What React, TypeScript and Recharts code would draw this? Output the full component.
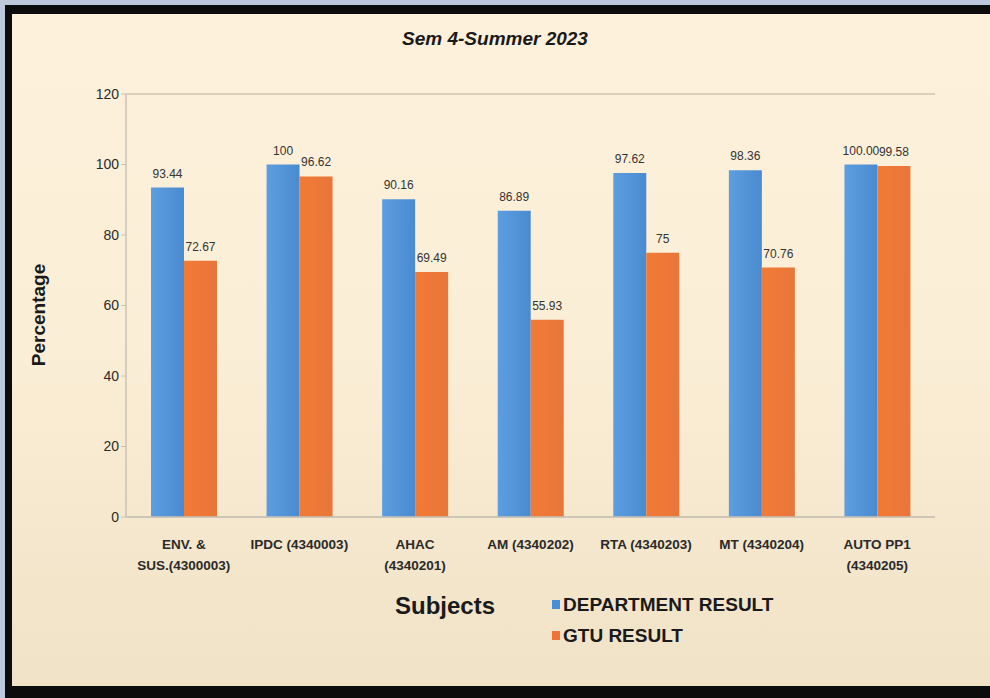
import React from 'react';
import { BarChart, Bar, XAxis, YAxis, CartesianGrid, LabelList } from 'recharts';

const subjects = [
  'ENV. &\nSUS.(4300003)',
  'IPDC (4340003)',
  'AHAC\n(4340201)',
  'AM (4340202)',
  'RTA (4340203)',
  'MT (4340204)',
  'AUTO PP1\n(4340205)',
];
const departmentResult = [93.44, 100, 90.16, 86.89, 97.62, 98.36, 100.0];
const departmentLabels = ['93.44', '100', '90.16', '86.89', '97.62', '98.36', '100.00'];
const gtuResult = [72.67, 96.62, 69.49, 55.93, 75, 70.76, 99.58];
const gtuLabels = ['72.67', '96.62', '69.49', '55.93', '75', '70.76', '99.58'];
const yTicks = [0, 20, 40, 60, 80, 100, 120];

const data = subjects.map((s, i) => ({
  subject: s,
  dept: departmentResult[i],
  deptLabel: departmentLabels[i],
  gtu: gtuResult[i],
  gtuLabel: gtuLabels[i],
}));

const FONT = '"Liberation Sans Narrow", "Liberation Sans", Arial, sans-serif';

const SubjectTick = (props: any) => {
  const { x, y, payload } = props;
  const lines = String(payload.value).split('\n');
  return (
    <g transform={`translate(${x},${y})`}>
      {lines.map((l, i) => (
        <text key={i} x={0} y={24 + i * 21} textAnchor="middle" fontSize={13.5} fontWeight={700} fontFamily={FONT} fill="#2a2a2a">
          {l}
        </text>
      ))}
    </g>
  );
};

const BarLabel = (props: any) => {
  const { x, y, width, value } = props;
  return (
    <text x={x + width / 2} y={y - 10} textAnchor="middle" fontSize={12} fontFamily={FONT} fill="#333">
      {value}
    </text>
  );
};

export default function App() {
  return (
    <div style={{ position: 'absolute', left: 0, top: 0, width: 990, height: 698, overflow: 'hidden', background: '#bcc8dc' }}>
      <div
        style={{
          position: 'absolute',
          left: 5,
          top: 5,
          width: 1000,
          height: 693,
          boxSizing: 'border-box',
          borderLeft: '7px solid #0c0c0c',
          borderTop: '9px solid #0c0c0c',
          borderBottom: '12px solid #0c0c0c',
          background: 'linear-gradient(180deg, #fdf1dc 0%, #fbeed6 50%, #efe2c6 100%)',
        }}
      />
      <div style={{ position: 'absolute', left: 0, top: 28, width: 990, textAlign: 'center', fontFamily: FONT, fontStyle: 'italic', fontWeight: 700, fontSize: 19, color: '#1a1a1a' }}>
        Sem 4-Summer 2023
      </div>
      <div
        style={{
          position: 'absolute',
          left: 39,
          top: 315,
          transform: 'translate(-50%, -50%) rotate(-90deg)',
          fontFamily: FONT,
          fontWeight: 700,
          fontSize: 19,
          color: '#1a1a1a',
          whiteSpace: 'nowrap',
        }}
      >
        Percentage
      </div>
      <div style={{ position: 'absolute', left: 395, top: 592, fontFamily: FONT, fontWeight: 700, fontSize: 24, color: '#1a1a1a' }}>
        Subjects
      </div>
      <div style={{ position: 'absolute', left: 552, top: 593, fontFamily: FONT, fontSize: 19, fontWeight: 700, color: '#1a1a1a' }}>
        <div style={{ display: 'flex', alignItems: 'center', height: 23 }}>
          <span style={{ width: 8, height: 9, background: '#4a8fd6', marginRight: 3 }} />
          DEPARTMENT RESULT
        </div>
        <div style={{ display: 'flex', alignItems: 'center', height: 23, marginTop: 8 }}>
          <span style={{ width: 8, height: 9, background: '#ed7434', marginRight: 3 }} />
          GTU RESULT
        </div>
      </div>
      <div style={{ position: 'absolute', left: 0, top: 0 }}>
        <BarChart width={990} height={698} data={data} margin={{ top: 94, right: 55, left: 63, bottom: 151 }} barGap={0} barSize={33}>
          <defs>
            <linearGradient id="blueGrad" x1="0" y1="0" x2="1" y2="0">
              <stop offset="0%" stopColor="#5d9ee0" />
              <stop offset="100%" stopColor="#4a8bd0" />
            </linearGradient>
            <linearGradient id="orangeGrad" x1="0" y1="0" x2="1" y2="0">
              <stop offset="0%" stopColor="#f27a36" />
              <stop offset="100%" stopColor="#e8763a" />
            </linearGradient>
          </defs>
          <CartesianGrid vertical={false} stroke="#cfc6b4" strokeWidth={1.5} />
          <XAxis
            dataKey="subject"
            tick={<SubjectTick />}
            tickLine={false}
            axisLine={{ stroke: '#c9c2b4', strokeWidth: 1.5 }}
            interval={0}
          />
          <YAxis
            yAxisId="left"
            width={63}
            domain={[0, 120]}
            ticks={yTicks}
            tickLine={{ stroke: '#c9c2b4' }}
            tickSize={5}
            axisLine={{ stroke: '#c9c2b4', strokeWidth: 1.5 }}
            tick={{ fontSize: 14, fontFamily: FONT, fill: '#2a2a2a' }}
          />
          <YAxis yAxisId="right" orientation="right" width={0} domain={[0, 120]} tick={false} tickLine={false} axisLine={{ stroke: '#d8d1c2', strokeWidth: 1.5 }} />
          <Bar yAxisId="left" dataKey="dept" name="DEPARTMENT RESULT" fill="url(#blueGrad)" isAnimationActive={false}>
            <LabelList dataKey="deptLabel" content={<BarLabel />} />
          </Bar>
          <Bar yAxisId="left" dataKey="gtu" name="GTU RESULT" fill="url(#orangeGrad)" isAnimationActive={false}>
            <LabelList dataKey="gtuLabel" content={<BarLabel />} />
          </Bar>
        </BarChart>
      </div>
    </div>
  );
}
